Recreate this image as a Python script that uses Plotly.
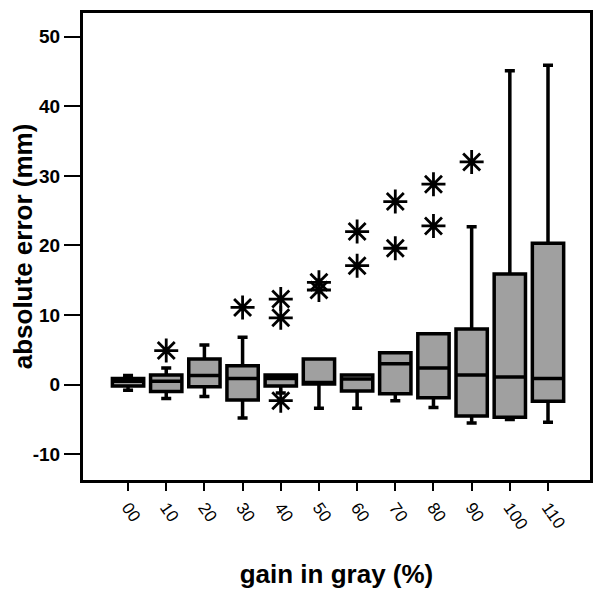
import plotly.graph_objects as go

categories = ["00", "10", "20", "30", "40", "50", "60", "70", "80", "90", "100", "110"]
q1 = [-0.2, -1.0, -0.3, -2.2, -0.2, 0.1, -0.9, -1.3, -1.9, -4.5, -4.7, -2.4]
median = [0.5, 0.5, 1.3, 0.9, 0.9, 0.3, 0.8, 3.0, 2.4, 1.4, 1.1, 0.9]
q3 = [0.9, 1.4, 3.7, 2.7, 1.4, 3.7, 1.4, 4.6, 7.3, 8.0, 15.9, 20.3]
lower_whisker = [-0.8, -2.0, -1.7, -4.8, -1.2, -3.4, -3.4, -2.3, -3.3, -5.5, -5.0, -5.4]
upper_whisker = [1.3, 2.4, 5.7, 6.8, 1.4, 3.7, 1.4, 4.6, 7.3, 22.7, 45.1, 45.9]

outlier_cat = ["10", "30", "40", "40", "40", "50", "50", "60", "60", "70", "70", "80", "80", "90"]
outlier_val = [4.9, 11.1, 12.3, 9.6, -2.3, 14.7, 13.6, 22.0, 17.1, 26.3, 19.6, 28.8, 22.8, 32.0]

y_ticks = [-10, 0, 10, 20, 30, 40, 50]
y_tick_labels = ["-10", "0", "10", "20", "30", "40", "50"]

xpos = list(range(len(categories)))
cat_index = {c: i for i, c in enumerate(categories)}

fig = go.Figure()
fig.add_trace(go.Box(
    x=xpos, q1=q1, median=median, q3=q3,
    lowerfence=lower_whisker, upperfence=upper_whisker,
    boxpoints=False, width=0.82, whiskerwidth=0.32,
    fillcolor="#a0a0a0", line=dict(color="black", width=3.5),
    showlegend=False, hoverinfo="skip",
))
fig.add_trace(go.Scatter(
    x=[cat_index[c] for c in outlier_cat], y=outlier_val, mode="markers",
    marker=dict(symbol="asterisk-open", size=20, color="black",
                line=dict(color="black", width=2.8)),
    showlegend=False, hoverinfo="skip",
))

fig.update_layout(
    width=585, height=581,
    margin=dict(l=75, r=3, t=2, b=109),
    plot_bgcolor="white", paper_bgcolor="white",
    font=dict(family="Liberation Sans, Arial, sans-serif", color="black"),
)
fig.update_xaxes(
    range=[-1.18, 12.1], tickmode="array", tickvals=xpos, ticktext=categories,
    tickangle=55, ticks="outside", ticklen=8, tickwidth=2, tickcolor="black",
    showline=True, linewidth=3, linecolor="black", mirror=True,
    showgrid=False, zeroline=False, tickfont=dict(size=17), automargin=True,
    title=dict(text="<b>gain in gray (%)</b>", font=dict(size=26), standoff=34),
)
fig.update_yaxes(
    range=[-13.7, 53.4], tickmode="array", tickvals=y_ticks, ticktext=y_tick_labels,
    ticks="outside", ticklen=16, tickwidth=2, tickcolor="black",
    showline=True, linewidth=3, linecolor="black", mirror=True,
    showgrid=False, zeroline=False, tickfont=dict(size=19, weight="bold"),
    automargin=False,
    title=dict(text="<b>absolute error (mm)</b>", font=dict(size=26), standoff=0),
)

fig.write_html("out.html")
